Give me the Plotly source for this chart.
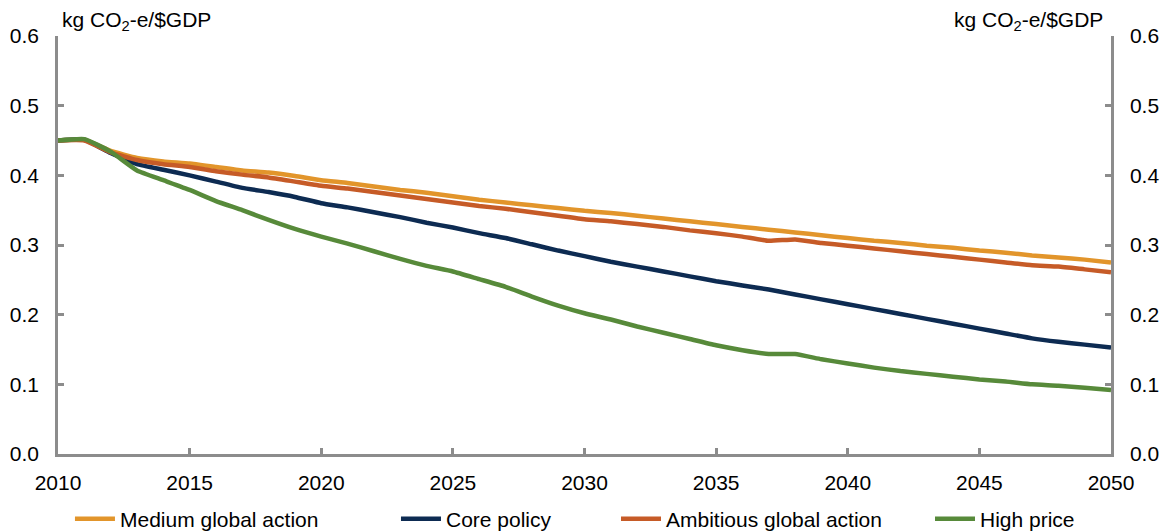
import plotly.graph_objects as go

years = list(range(2010, 2051))

medium_global_action = [0.450, 0.451, 0.435, 0.425, 0.420, 0.417, 0.412, 0.407, 0.404, 0.399,
                        0.393, 0.389, 0.384, 0.379, 0.375, 0.370, 0.365, 0.361, 0.357, 0.353,
                        0.349, 0.346, 0.342, 0.338, 0.334, 0.330, 0.326, 0.322, 0.318, 0.314,
                        0.310, 0.306, 0.303, 0.299, 0.296, 0.292, 0.289, 0.285, 0.282, 0.279, 0.275]
core_policy = [0.450, 0.451, 0.432, 0.416, 0.408, 0.400, 0.391, 0.382, 0.376, 0.369,
               0.360, 0.354, 0.347, 0.340, 0.332, 0.325, 0.317, 0.310, 0.301, 0.292,
               0.284, 0.276, 0.269, 0.262, 0.255, 0.248, 0.242, 0.236, 0.229, 0.222,
               0.215, 0.208, 0.201, 0.194, 0.187, 0.180, 0.173, 0.166, 0.161, 0.157, 0.153]
ambitious_global_action = [0.450, 0.450, 0.433, 0.422, 0.416, 0.412, 0.406, 0.401, 0.397, 0.391,
                           0.385, 0.381, 0.376, 0.371, 0.366, 0.361, 0.356, 0.352, 0.347, 0.342,
                           0.337, 0.334, 0.330, 0.326, 0.321, 0.317, 0.312, 0.306, 0.308, 0.303,
                           0.299, 0.295, 0.291, 0.287, 0.283, 0.279, 0.275, 0.271, 0.269, 0.265, 0.261]
high_price = [0.450, 0.452, 0.434, 0.407, 0.393, 0.379, 0.363, 0.350, 0.336, 0.323,
              0.312, 0.302, 0.291, 0.280, 0.270, 0.262, 0.251, 0.240, 0.226, 0.213,
              0.202, 0.193, 0.183, 0.174, 0.165, 0.156, 0.149, 0.1435, 0.1435, 0.136,
              0.130, 0.124, 0.119, 0.115, 0.111, 0.107, 0.104, 0.100, 0.098, 0.095, 0.092]

series_names = ["Medium global action", "Core policy", "Ambitious global action", "High price"]
series_values = [medium_global_action, core_policy, ambitious_global_action, high_price]
series_colors = ["#E2952B", "#0D2B52", "#C65B27", "#578A3A"]
legend_ids = ["legend", "legend2", "legend3", "legend4"]

y_ticks = [0.0, 0.1, 0.2, 0.3, 0.4, 0.5, 0.6]
x_ticks = list(range(2010, 2051, 5))
unit_label = "kg CO<sub>2</sub>-e/$GDP"

FONT = "Liberation Sans, Arial, sans-serif"
FS = 21
AXIS_GREY = "#8C8C8C"

fig = go.Figure()
for name, vals, color, lg in zip(series_names, series_values, series_colors, legend_ids):
    fig.add_trace(go.Scatter(
        x=years, y=vals, name=name, mode="lines",
        line=dict(color=color, width=4.5, shape="spline", smoothing=0.4),
        legend=lg,
    ))

# invisible trace to activate the right-hand axis
fig.add_trace(go.Scatter(x=years, y=core_policy, yaxis="y2", mode="lines",
                         line=dict(width=0), opacity=0, showlegend=False, hoverinfo="skip"))

axis_common = dict(
    showline=True, linecolor=AXIS_GREY, linewidth=2.5,
    ticks="inside", ticklen=6, tickwidth=2.5, tickcolor=AXIS_GREY,
    showgrid=False, zeroline=False, automargin=False,
    tickfont=dict(family=FONT, size=FS, color="#000000"),
)

fig.update_layout(
    width=1166, height=531,
    margin=dict(l=58, r=55, t=36, b=77),
    plot_bgcolor="white", paper_bgcolor="white",
    font=dict(family=FONT, size=FS, color="#000000"),
    xaxis=dict(range=[2010, 2050], tickvals=x_ticks, ticklabelstandoff=8, **axis_common),
    yaxis=dict(range=[0, 0.6], tickvals=y_ticks, tickformat=".1f", side="left",
               ticklabelstandoff=12, **axis_common),
    yaxis2=dict(range=[0, 0.6], tickvals=y_ticks, tickformat=".1f", side="right",
                overlaying="y", ticklabelstandoff=12, **axis_common),
    showlegend=True,
)

legend_x = [0.060, 0.3396, 0.5283, 0.7976]
for lname, lx in zip(legend_ids, legend_x):
    fig.update_layout({lname: dict(
        x=lx, xref="container", y=12 / 531, yref="container",
        xanchor="left", yanchor="middle", orientation="h",
        font=dict(family=FONT, size=FS, color="#000000"),
        bgcolor="rgba(0,0,0,0)", borderwidth=0,
        tracegroupgap=0, itemwidth=40,
    )})

fig.add_annotation(text=unit_label, xref="paper", yref="paper", x=0.0, y=1.0,
                   xanchor="left", yanchor="bottom", xshift=2, yshift=0, showarrow=False,
                   font=dict(family=FONT, size=FS, color="#000000"))
fig.add_annotation(text=unit_label, xref="paper", yref="paper", x=1.0, y=1.0,
                   xanchor="right", yanchor="bottom", xshift=-6, yshift=0, showarrow=False,
                   font=dict(family=FONT, size=FS, color="#000000"))

fig.write_html("out.html",
               config={"displayModeBar": False},
               post_script="document.body.style.margin='0';document.body.style.overflow='hidden';")
